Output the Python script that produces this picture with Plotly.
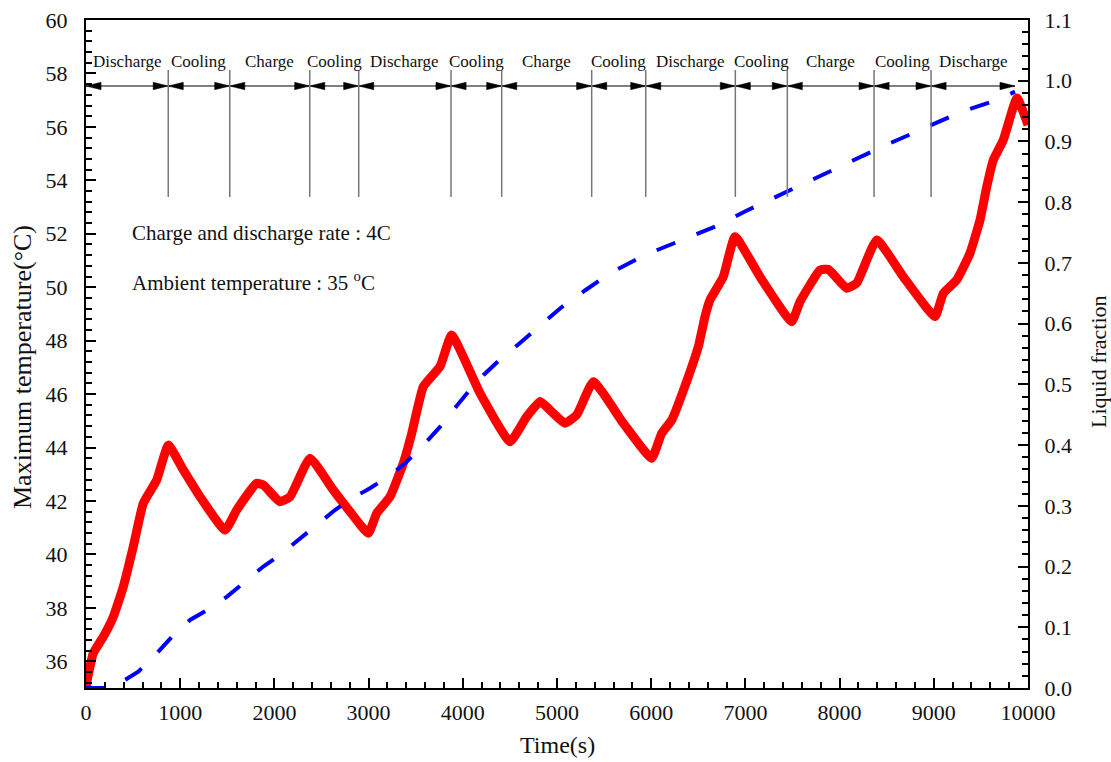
import plotly.graph_objects as go

# Maximum battery temperature (°C) over time (s)
time_T = [0, 7, 77, 184, 290, 396, 502, 608, 750, 874, 1033, 1210, 1476, 1600, 1812,
          1882, 2059, 2166, 2378, 2625, 2803, 2997, 3086, 3227, 3368, 3458, 3581, 3758,
          3882, 4183, 4501, 4678, 4820, 4926, 5085, 5209, 5386, 5704, 6005, 6111, 6218,
          6394, 6500, 6571, 6624, 6765, 6890, 7155, 7491, 7580, 7792, 7880, 8075, 8181,
          8394, 8676, 9013, 9101, 9243, 9384, 9490, 9562, 9632, 9738, 9883, 10000]
temp_max = [35.0, 35.18, 36.3, 36.92, 37.67, 38.79, 40.29, 41.91, 42.78, 44.09, 43.16,
            42.16, 40.91, 41.66, 42.66, 42.60, 41.97, 42.16, 43.6, 42.41, 41.60, 40.79,
            41.54, 42.16, 43.41, 44.53, 46.28, 47.03, 48.21, 46.03, 44.22, 45.15, 45.72,
            45.40, 44.91, 45.22, 46.46, 44.91, 43.6, 44.53, 45.03, 46.65, 47.77, 48.90,
            49.52, 50.39, 51.89, 50.39, 48.71, 49.46, 50.64, 50.67, 49.96, 50.15, 51.77,
            50.39, 48.90, 49.77, 50.27, 51.27, 52.51, 53.76, 54.76, 55.51, 57.08, 56.07]

# PCM liquid fraction over time (s)
time_LF = [0, 330, 361, 555, 751, 910, 1104, 1281, 1494, 1670, 1882, 2059, 2254, 2449,
           2643, 2820, 3015, 3209, 3386, 3564, 3758, 3900, 4076, 4218, 4430, 4607, 4802,
           5032, 5300, 5563, 5934, 6324, 6712, 7000, 7367, 7757, 8146, 8535, 8924, 9296,
           9667, 9862]
liquid_frac = [0.0, 0.0, 0.008, 0.027, 0.057, 0.084, 0.112, 0.128, 0.150, 0.172, 0.200,
               0.219, 0.244, 0.268, 0.293, 0.312, 0.329, 0.348, 0.370, 0.397, 0.430,
               0.458, 0.491, 0.515, 0.546, 0.568, 0.595, 0.625, 0.655, 0.683, 0.713,
               0.738, 0.762, 0.785, 0.812, 0.842, 0.869, 0.897, 0.924, 0.949, 0.968,
               0.982]

# Operating phases and their boundaries (s)
phase_names = ["Discharge", "Cooling", "Charge", "Cooling", "Discharge", "Cooling",
               "Charge", "Cooling", "Discharge", "Cooling", "Charge", "Cooling", "Discharge"]
phase_edges = [0, 873, 1526, 2375, 2895, 3875, 4413, 5368, 5942, 6893, 7445, 8366,
               8971, 9862]

FONT = "Liberation Serif"
INK = "#111"
ARROW_Y = 57.53       # level of the phase arrows (°C axis)
LABEL_Y = 58.45       # level of the phase names
SEP_TOP, SEP_BOT = 58.13, 53.38
HEAD_L, HEAD_H = 160, 0.14   # arrowhead length (s) and half height (°C)

fig = go.Figure()

fig.add_trace(go.Scatter(
    x=time_T, y=temp_max, mode="lines",
    line=dict(color="#ff0000", width=9, shape="spline", smoothing=0.4),
    showlegend=False, yaxis="y"))

fig.add_trace(go.Scatter(
    x=time_LF, y=liquid_frac, mode="lines",
    line=dict(color="#0000ff", width=4, dash="20px,23px"),
    showlegend=False, yaxis="y2"))

shapes = []
annotations = []
for i, name in enumerate(phase_names):
    a, b = phase_edges[i], phase_edges[i + 1]
    # horizontal double arrow across the phase
    shapes.append(dict(type="line", xref="x", yref="y", x0=a, x1=b, y0=ARROW_Y, y1=ARROW_Y,
                       line=dict(color="black", width=1)))
    shapes.append(dict(type="path", xref="x", yref="y", fillcolor="black",
                       line=dict(color="black", width=0.5),
                       path=f"M{b},{ARROW_Y} L{b - HEAD_L},{ARROW_Y + HEAD_H} "
                            f"L{b - HEAD_L},{ARROW_Y - HEAD_H} Z"))
    shapes.append(dict(type="path", xref="x", yref="y", fillcolor="black",
                       line=dict(color="black", width=0.5),
                       path=f"M{a},{ARROW_Y} L{a + HEAD_L},{ARROW_Y + HEAD_H} "
                            f"L{a + HEAD_L},{ARROW_Y - HEAD_H} Z"))
    annotations.append(dict(x=(a + b) / 2, y=LABEL_Y, xref="x", yref="y", text=name,
                            showarrow=False, font=dict(family=FONT, size=17, color=INK)))

# separators between consecutive phases
for e in phase_edges[1:-1]:
    shapes.append(dict(type="line", xref="x", yref="y", x0=e, x1=e, y0=SEP_BOT, y1=SEP_TOP,
                       line=dict(color="#777", width=1.5)))

annotations.append(dict(x=467, y=52.03, xref="x", yref="y", xanchor="left",
                        text="Charge and discharge rate : 4C", showarrow=False,
                        font=dict(family=FONT, size=21, color=INK)))
annotations.append(dict(x=467, y=50.23, xref="x", yref="y", xanchor="left",
                        text="Ambient temperature : 35 <sup>o</sup>C", showarrow=False,
                        font=dict(family=FONT, size=21, color=INK)))

# axis titles
annotations.append(dict(x=0.5, y=0, xref="paper", yref="paper", yshift=-57,
                        xanchor="center", yanchor="middle",
                        text="Time(s)", showarrow=False,
                        font=dict(family=FONT, size=24, color=INK)))
annotations.append(dict(x=0, y=0.5, xref="paper", yref="paper", xshift=-64, yshift=-13,
                        xanchor="center", yanchor="middle",
                        text="Maximum temperature(°C)", textangle=-90, showarrow=False,
                        font=dict(family=FONT, size=26, color=INK)))
annotations.append(dict(x=1, y=0.5, xref="paper", yref="paper", xshift=70, yshift=-8,
                        xanchor="center", yanchor="middle",
                        text="Liquid fraction", textangle=-90, showarrow=False,
                        font=dict(family=FONT, size=22, color=INK)))

axis_common = dict(showline=True, linecolor="black", linewidth=2, ticks="inside",
                   tickcolor="black", tickwidth=2, ticklen=10, showgrid=False,
                   zeroline=False, automargin=False,
                   tickfont=dict(family=FONT, size=22, color=INK))

fig.update_layout(
    width=1111, height=762,
    margin=dict(l=86, r=83, t=20, b=74),
    paper_bgcolor="white", plot_bgcolor="white",
    shapes=shapes, annotations=annotations,
    xaxis=dict(range=[0, 10000], dtick=1000, tick0=0, mirror=True, tickformat="d",
               minor=dict(ticks="inside", dtick=200, ticklen=6, tickwidth=2, tickcolor="black"),
               ticklabelstandoff=4, **axis_common),
    yaxis=dict(range=[35, 60], dtick=2, tick0=0,
               minor=dict(ticks="inside", dtick=0.4, tick0=0, ticklen=6, tickwidth=2,
                          tickcolor="black"),
               ticklabelstandoff=12, **axis_common),
    yaxis2=dict(range=[0, 1.1], dtick=0.1, tick0=0, tickformat=".1f", overlaying="y",
                side="right",
                minor=dict(ticks="inside", dtick=0.02, ticklen=6, tickwidth=2,
                           tickcolor="black"),
                ticklabelstandoff=10, **axis_common),
)

fig.write_html("out.html")
